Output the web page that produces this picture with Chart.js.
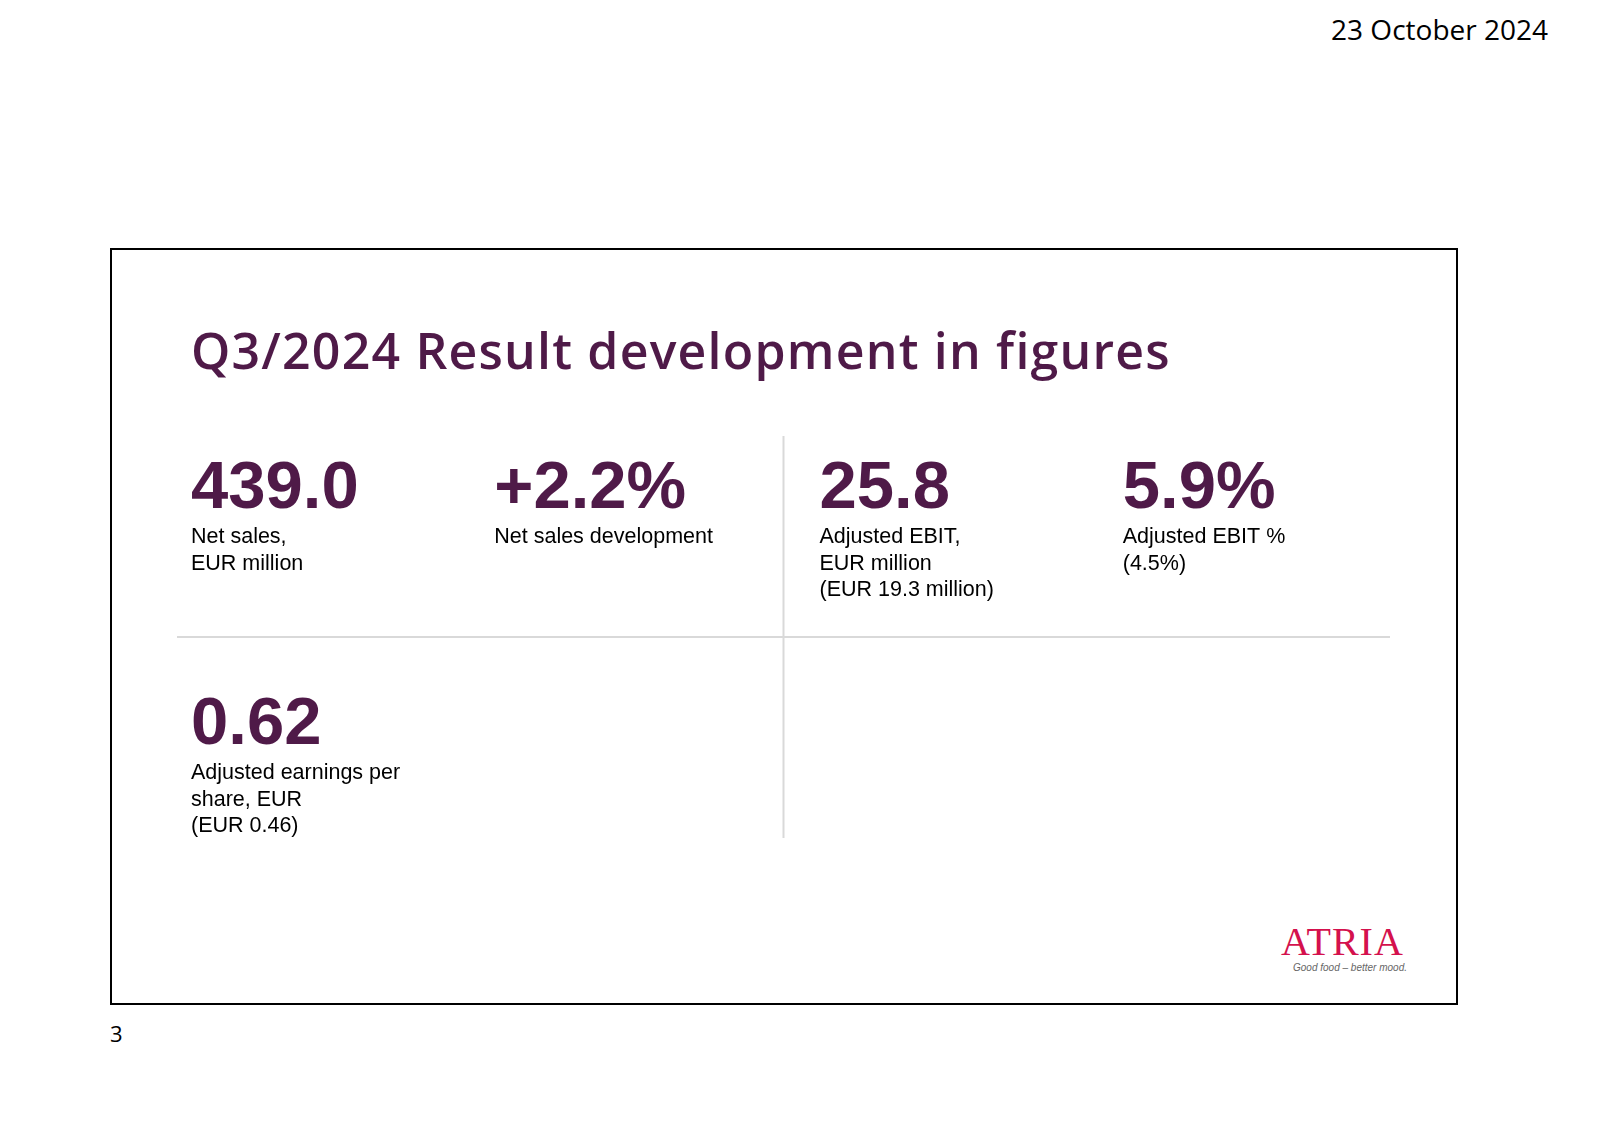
<!DOCTYPE html>
<html>
<head>
<meta charset="utf-8">
<script src="https://cdn.jsdelivr.net/npm/chart.js@4/dist/chart.umd.min.js"></script>
<style>
  html, body { overflow: hidden; }
  body { margin: 0; width: 1600px; height: 1133px; background: #fff; position: relative; font-family: "Liberation Sans", Arial, sans-serif; }
  .date { position: absolute; right: 52px; top: 10px; font: 28px "Open Sans", sans-serif; color: #000; }
  .page { position: absolute; left: 110px; top: 1018px; font: 22px "Open Sans", sans-serif; }
  .frame { position: absolute; left: 110px; top: 248px; width: 1344px; height: 753px; border: 2px solid #000; }
  .title { position: absolute; left: 191px; top: 316px; font: 600 50px "Open Sans", sans-serif; color: #4f1a48; white-space: nowrap; letter-spacing: 1.2px; }
  #kpiWrap { position: absolute; left: 177px; top: 436px; width: 1213px; height: 402px; }
  .logo { position: absolute; left: 1281px; top: 918px; font: 40px "Liberation Serif", serif; color: #d4114d; letter-spacing: 1px; }
  .tag { position: absolute; left: 1293px; top: 962px; font: italic 10px "Liberation Sans", sans-serif; color: #666; }
</style>
</head>
<body>
<div class="date">23 October 2024</div>
<div class="frame"></div>
<div class="title">Q3/2024 Result development in figures</div>
<div id="kpiWrap"><canvas id="kpiChart"></canvas></div>
<div class="logo">ATRIA</div>
<div class="tag">Good food – better mood.</div>
<div class="page">3</div>
<script>
// KPI figures
const figures = ['439.0', '+2.2%', '25.8', '5.9%', '0.62'];
const captions = [
  ['Net sales,', 'EUR million'],
  ['Net sales development'],
  ['Adjusted EBIT,', 'EUR million', '(EUR 19.3 million)'],
  ['Adjusted EBIT %', '(4.5%)'],
  ['Adjusted earnings per', 'share, EUR', '(EUR 0.46)']
];
const cellCols = [0, 1, 2, 3, 0];
const cellRows = [2, 2, 2, 2, 1];

const kpiText = {
  id: 'kpiText',
  afterDraw(chart) {
    const { ctx, scales: { x, y }, chartArea } = chart;
    ctx.save();
    // dividers
    ctx.strokeStyle = '#d9d9d9';
    ctx.lineWidth = 2;
    ctx.beginPath();
    ctx.moveTo(x.getPixelForValue(2), chartArea.top);
    ctx.lineTo(x.getPixelForValue(2), chartArea.bottom);
    ctx.moveTo(chartArea.left, y.getPixelForValue(1));
    ctx.lineTo(chartArea.right, y.getPixelForValue(1));
    ctx.stroke();
    figures.forEach((f, i) => {
      const c = cellCols[i];
      const px = x.getPixelForValue(c) + (c >= 2 ? 36 : 14);
      const top = y.getPixelForValue(cellRows[i]);
      const base = top + (cellRows[i] === 2 ? 72 : 107);
      ctx.fillStyle = '#4f1a48';
      ctx.font = 'bold 67px "Liberation Sans", Arial, sans-serif';
      ctx.textBaseline = 'alphabetic';
      ctx.fillText(f, px, base);
      ctx.fillStyle = '#000';
      ctx.font = '21.5px "Liberation Sans", Arial, sans-serif';
      captions[i].forEach((line, j) => ctx.fillText(line, px, base + 35 + j * 26.5));
    });
    ctx.restore();
  }
};

new Chart(document.getElementById('kpiChart'), {
  type: 'scatter',
  data: { datasets: [{ data: [], pointRadius: 0 }] },
  options: {
    responsive: true,
    maintainAspectRatio: false,
    animation: false,
    layout: { padding: 0 },
    plugins: { legend: { display: false }, tooltip: { enabled: false } },
    scales: {
      x: { min: 0, max: 4, display: false },
      y: { min: 0, max: 2, display: false }
    }
  },
  plugins: [kpiText]
});
</script>
</body>
</html>
